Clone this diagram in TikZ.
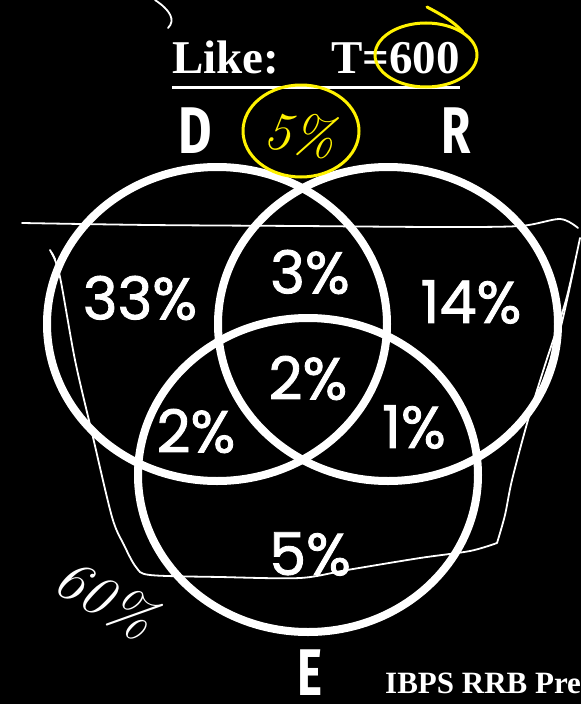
\documentclass[tikz,border=0pt]{standalone}
\usepackage{fontspec}
\setmainfont{Liberation Serif}
\newfontfamily\pctfont{Poppins}[FakeBold=1.5]
\newfontfamily\setfont{Fira Sans}
\newfontfamily\handfont{Latin Modern Roman}
\usepackage{tikz}
\usetikzlibrary{positioning}
\definecolor{boardBlack}{HTML}{000000}
\definecolor{chalkWhite}{HTML}{FFFFFF}
\definecolor{markYellow}{HTML}{FFF200}

\begin{document}
\begin{tikzpicture}[x=1pt, y=-1pt,
    ring/.style={draw=chalkWhite, line width=8pt},
    pct/.style={inner sep=0pt, text=chalkWhite, font=\pctfont\fontsize{59}{59}\selectfont},
    setlbl/.style={inner sep=0pt, text=chalkWhite, font=\setfont\bfseries\fontsize{66}{66}\selectfont},
    title/.style={inner sep=0pt, text=chalkWhite, font=\bfseries\fontsize{47}{47}\selectfont},
    pen/.style={draw=chalkWhite, line width=1.8pt, line cap=round, line join=round},
    marker/.style={draw=markYellow, line width=3pt, line cap=round}]
  \fill[boardBlack] (0,0) rectangle (581,704);
  \useasboundingbox (0,0) rectangle (581,704);
  % title
  \node[title, anchor=base west] (like) at (172,73) {Like:};
  \node[title, anchor=base west] (total) at (331,73) {T=600};
  \draw[chalkWhite, line width=3pt] ([yshift=-14pt]like.base west) -- ([yshift=-14pt]total.base east);
  % the three sets
  \draw[ring] (217,324) ellipse [x radius=170pt, y radius=157pt];
  \draw[ring] (388,324) ellipse [x radius=170pt, y radius=157pt];
  \draw[ring] (308,475) ellipse [x radius=170pt, y radius=157pt];
  \node[setlbl] (d) at (195,131) {\scalebox{0.78}[1]{D}};
  \node[setlbl] (r) at (456,131) {\scalebox{0.72}[1]{R}};
  \node[setlbl] (e) at (310,673) {\scalebox{0.72}[1]{E}};
  % regions
  \node[pct] (dOnly) at (140,298) {33\%};
  \node[pct] (dr) at (310,272) {3\%};
  \node[pct] (rOnly) at (471,302) {14\%};
  \node[pct] (dre) at (308,378) {2\%};
  \node[pct] (de) at (196,431) {2\%};
  \node[pct] (re) at (414,427) {1\%};
  \node[pct] (eOnly) at (310,554) {5\%};
  % chalk marks
  \draw[pen] plot[smooth, tension=0.5] coordinates {(22,223) (150,225) (300,226) (440,227) (520,226) (560,219) (578,228)};
  \draw[pen] plot[smooth, tension=0.5] coordinates {(580,238) (566,300) (545,365) (528,420) (512,480) (505,515) (497,543)};
  \draw[pen] plot[smooth, tension=0.5] coordinates {(575,262) (560,330) (540,390) (530,415)};
  \draw[pen] plot[smooth, tension=0.5] coordinates {(497,543) (470,551) (420,558) (347,570) (300,578) (220,577) (150,575) (136,567) (124,545) (112,517) (92,433) (75,360) (60,277) (52,253)};
  \draw[pen] (50,250) -- (55,259);
  \draw[pen] (155,0) .. controls (170,10) and (176,20) .. (168,28);
  \node[text=chalkWhite, rotate=-30, inner sep=0pt, font=\handfont\itshape\fontsize{58}{58}\selectfont] (sixty) at (106,598) {60\%};
  % yellow marks
  \draw[marker] (426,55) ellipse [x radius=51pt, y radius=32pt];
  \draw[marker] (427,7) .. controls (440,14) and (452,20) .. (463,32);
  \draw[marker] (301,131) ellipse [x radius=58pt, y radius=46pt];
  \node[text=markYellow, rotate=-8, inner sep=0pt, font=\handfont\itshape\fontsize{54}{54}\selectfont] (fifty) at (300,134) {5\%};
  % source
  \node[title, anchor=base west, font=\bfseries\fontsize{31}{31}\selectfont] (source) at (385,693) {IBPS RRB Pre};
\end{tikzpicture}
\end{document}
